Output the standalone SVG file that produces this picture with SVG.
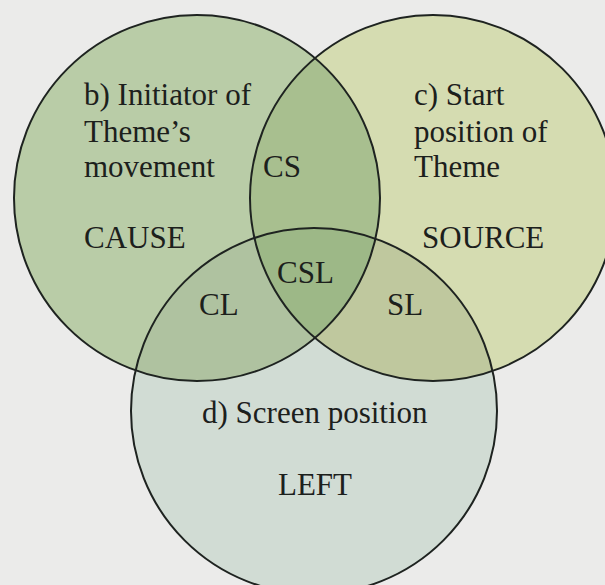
<svg xmlns="http://www.w3.org/2000/svg" width="605" height="585" viewBox="0 0 605 585">
<defs>
<style>
.outline{fill:none;stroke:#1e2320;stroke-width:2}
.lbl{font-family:"Liberation Serif","Times New Roman",serif;font-size:31px;fill:#1c201c}
</style>
<clipPath id="clipC"><circle cx="197" cy="198" r="183"/></clipPath>
<clipPath id="clipS"><circle cx="433" cy="198" r="183"/></clipPath>
<clipPath id="clipL"><circle cx="314" cy="411" r="183"/></clipPath>
</defs>
<rect width="605" height="585" fill="#ebebea"/>
<g id="fills">
<circle cx="197" cy="198" r="183" fill="#b9cca7"/>
<circle cx="433" cy="198" r="183" fill="#d5dcb1"/>
<circle cx="314" cy="411" r="183" fill="#d1dcd4"/>
<g clip-path="url(#clipC)"><circle cx="433" cy="198" r="183" fill="#a8bf8f"/></g>
<g clip-path="url(#clipC)"><circle cx="314" cy="411" r="183" fill="#afc2a0"/></g>
<g clip-path="url(#clipS)"><circle cx="314" cy="411" r="183" fill="#bfc89e"/></g>
<g clip-path="url(#clipC)"><g clip-path="url(#clipS)"><circle cx="314" cy="411" r="183" fill="#9db887"/></g></g>
</g>
<g id="cause">
<circle class="outline" cx="197" cy="198" r="183"/>
<text class="lbl" x="84" y="105">b) Initiator of</text>
<text class="lbl" x="84" y="142">Theme’s</text>
<text class="lbl" x="84" y="177">movement</text>
<text class="lbl" x="84" y="248">CAUSE</text>
</g>
<g id="source">
<circle class="outline" cx="433" cy="198" r="183"/>
<text class="lbl" x="414" y="105">c) Start</text>
<text class="lbl" x="414" y="142">position of</text>
<text class="lbl" x="414" y="177">Theme</text>
<text class="lbl" x="422" y="248">SOURCE</text>
</g>
<g id="left">
<circle class="outline" cx="314" cy="411" r="183"/>
<text class="lbl" x="202" y="423">d) Screen position</text>
<text class="lbl" x="278" y="495">LEFT</text>
</g>
<g id="overlaps">
<text class="lbl" x="263" y="177">CS</text>
<text class="lbl" x="277" y="283">CSL</text>
<text class="lbl" x="199" y="315">CL</text>
<text class="lbl" x="387" y="315">SL</text>
</g>
</svg>
